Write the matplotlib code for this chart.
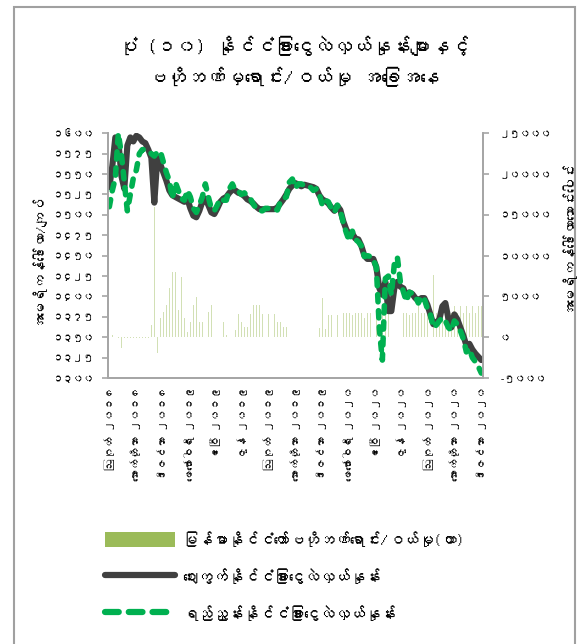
import numpy as np
import matplotlib
matplotlib.use('Agg')
import matplotlib.pyplot as plt
from matplotlib import font_manager
from matplotlib.ft2font import FT2Font
from matplotlib.patches import Patch, Rectangle
from matplotlib.lines import Line2D

# look for any installed font that has Myanmar glyphs
mm_font = None
for f in font_manager.fontManager.ttflist:
    try:
        if 0x1000 in FT2Font(f.fname).get_charmap():
            mm_font = f.name
            break
    except Exception:
        pass
families = [mm_font, 'DejaVu Sans'] if mm_font else ['DejaVu Sans']
plt.rcParams['font.family'] = families

title = "ပုံ (၁၀) နိုင်ငံခြားငွေလဲလှယ်နှုန်းများနှင့်\nဗဟိုဘဏ်မှရောင်း/ဝယ်မှု အခြေအနေ"
left_label = "အမေရိကန်ဒေါ်လာ/ကျပ်"
right_label = "အမေရိကန်ဒေါ်လာသောင်းပေါင်း"
bar_name = "မြန်မာနိုင်ငံတော်ဗဟိုဘဏ်ရောင်း/ဝယ်မှု(ယာ)"
market_name = "ဈေးကွက်နိုင်ငံခြားငွေလဲလှယ်နှုန်း"
ref_name = "ရည်ညွှန်းနိုင်ငံခြားငွေလဲလှယ်နှုန်း"

date_labels = ["ဩဂုတ် ၂၀၁၈", "အောက်တိုဘာ ၂၀၁၈", "ဒီဇင်ဘာ ၂၀၁၈",
               "ဖေဖော်ဝါရီ ၂၀၁၉", "ဧပြီ ၂၀၁၉", "ဇွန် ၂၀၁၉", "ဩဂုတ် ၂၀၁၉",
               "အောက်တိုဘာ ၂၀၁၉", "ဒီဇင်ဘာ ၂၀၁၉",
               "ဖေဖော်ဝါရီ ၂၀၂၀", "ဧပြီ ၂၀၂၀", "ဇွန် ၂၀၂၀", "ဩဂုတ် ၂၀၂၀",
               "အောက်တိုဘာ ၂၀၂၀", "ဒီဇင်ဘာ ၂၀၂၀"]

# kyat per USD
market_rate = [1534, 1560, 1595, 1592, 1548, 1532, 1585, 1595, 1590, 1597,
               1595, 1590, 1588, 1580, 1570, 1515, 1570, 1562, 1552, 1542,
               1530, 1524, 1522, 1520, 1518, 1516, 1520, 1508, 1499, 1497,
               1505, 1516, 1520, 1512, 1503, 1501, 1508, 1516, 1520, 1522,
               1527, 1531, 1530, 1527, 1526, 1523, 1519, 1517, 1514, 1510,
               1507, 1507, 1507, 1507, 1507, 1507, 1509, 1514, 1519, 1525,
               1532, 1536, 1539, 1537, 1535, 1537, 1536, 1535, 1534, 1532,
               1524, 1519, 1517, 1514, 1509, 1505, 1511, 1506, 1492, 1482,
               1476, 1477, 1471, 1470, 1462, 1450, 1446, 1446, 1446, 1436,
               1410, 1402, 1418, 1382, 1382, 1410, 1418, 1412, 1410, 1401,
               1405, 1403, 1398, 1395, 1398, 1398, 1390, 1378, 1366, 1368,
               1372, 1388, 1392, 1373, 1362, 1378, 1372, 1362, 1352, 1340,
               1342, 1335, 1330, 1326, 1322]

reference_rate = [1510, 1530, 1545, 1600, 1575, 1540, 1505, 1525, 1545, 1555,
                  1575, 1580, 1580, 1578, 1575, 1572, 1577, 1578, 1565, 1552,
                  1542, 1520, 1540, 1530, 1520, 1518, 1530, 1522, 1508, 1503,
                  1512, 1522, 1538, 1522, 1508, 1505, 1512, 1520, 1518, 1518,
                  1532, 1538, 1530, 1529, 1525, 1527, 1523, 1520, 1513, 1508,
                  1505, 1505, 1508, 1508, 1507, 1507, 1506, 1516, 1520, 1522,
                  1540, 1544, 1533, 1538, 1538, 1536, 1536, 1534, 1530, 1532,
                  1525, 1512, 1518, 1516, 1508, 1503, 1512, 1505, 1490, 1478,
                  1468, 1480, 1470, 1467, 1462, 1449, 1450, 1449, 1445, 1436,
                  1360, 1322, 1422, 1425, 1402, 1440, 1448, 1418, 1406, 1394,
                  1405, 1404, 1400, 1392, 1400, 1397, 1385, 1378, 1362, 1365,
                  1370, 1374, 1370, 1362, 1358, 1370, 1366, 1358, 1348, 1332,
                  1336, 1325, 1320, 1314, 1306]

# central bank sales(-)/purchases, USD 10 thousand
cbm_trade = [0, 300, 0, -100, -1350, -100, -100, -100, -100, -100,
             -100, -100, -100, -100, 1500, 16000, -1960, 2300, 3100, 4000,
             6000, 8000, 8000, 3300, 7400, 2300, 700, 1900, 4000, 4900,
             1900, 1900, 0, 3100, 4000, 0, 0, 0, 1900, 300,
             0, 0, 900, 2900, 1900, 1300, 1300, 2900, 4000, 4000,
             4000, 2900, 0, 2900, 0, 2900, 1900, 1900, 1300, 1300,
             0, 0, 0, 0, 0, 0, 0, 0, 0, 0,
             1100, 4800, 1000, 2700, 2700, 0, 2700, 0, 2950, 2950,
             2950, 2700, 2950, 2950, 2950, 2400, 2950, 2950, 0, 2400,
             0, 2950, 2950, 2950, 0, 0, 0, 0, 2950, 2950,
             2700, 2950, 2950, 4000, 2950, 2950, 2950, 0, 7600, 3000,
             2800, 3800, 3000, 3800, 3000, 3800, 3000, 3800, 3000, 3800,
             3000, 3800, 3000, 3800, 3800]

left_ticks = list(range(1300, 1601, 25))
right_ticks = list(range(-5000, 25001, 5000))

mm_digits = str.maketrans('0123456789', '၀၁၂၃၄၅၆၇၈၉')
def mm(v):
    return str(v).translate(mm_digits)

x = np.arange(len(market_rate))
grey = '#a6a6a6'

fig = plt.figure(figsize=(5.86, 6.44), dpi=100)
ax = fig.add_axes([0.184, 0.413, 0.64, 0.38])
ax2 = ax.twinx()

ax2.bar(x, cbm_trade, width=0.35, color='#b5cc85', alpha=0.6, linewidth=0)
ax.plot(x, market_rate, color='#404040', lw=4.4, solid_capstyle='round',
        solid_joinstyle='round')
ax.plot(x, reference_rate, color='#00b050', lw=4.0, linestyle=(0, (1.3, 1.6)),
        dash_capstyle='round')
ax.set_zorder(ax2.get_zorder() + 1)
ax.patch.set_visible(False)

ax.set_ylim(1300, 1600)
ax2.set_ylim(-5000, 25000)
ax.set_xlim(-0.5, len(x) - 0.5)
ax.set_yticks(left_ticks)
ax.set_yticklabels([mm(v) for v in left_ticks])
ax2.set_yticks(right_ticks)
ax2.set_yticklabels([mm(v) for v in right_ticks])

tick_pos = np.linspace(0, len(x) - 1, len(date_labels))
ax.set_xticks(tick_pos)
ax.set_xticklabels(date_labels, rotation=90, va='top', ha='center')

for a in (ax, ax2):
    a.spines['top'].set_visible(False)
    for s in ('left', 'right', 'bottom'):
        a.spines[s].set_color(grey)
        a.spines[s].set_linewidth(1.3)
    a.tick_params(axis='both', colors=grey, labelcolor='black', labelsize=7.5,
                  length=4, width=1.2, direction='out')
ax.tick_params(axis='x', length=0, pad=6, labelsize=8)
ax2.tick_params(axis='y', pad=8)
ax.tick_params(axis='y', pad=6)

fig.text(0.5, 0.905, title, ha='center', va='center', fontsize=14,
         fontweight='bold', linespacing=1.6)
fig.text(36 / 586, 1 - 258 / 644, left_label, rotation=90, ha='center',
         va='center', fontsize=10)
fig.text(566 / 586, 1 - 235 / 644, right_label, rotation=90, ha='center',
         va='center', fontsize=10)

handles = [Patch(facecolor='#9bbb59', edgecolor='none'),
           Line2D([], [], color='#404040', lw=4.5, solid_capstyle='round'),
           Line2D([], [], color='#00b050', lw=4.5, linestyle=(0, (2.2, 1.6)),
                  dash_capstyle='round')]
fig.legend(handles, [bar_name, market_name, ref_name], loc='upper left',
           bbox_to_anchor=(0.155, 0.197), frameon=False, fontsize=11,
           handlelength=4.6, handleheight=1.2, labelspacing=1.35,
           handletextpad=0.5)

fig.add_artist(Rectangle((14 / 586, -0.05), (575 - 14) / 586, 1.05 - 7 / 644,
                         transform=fig.transFigure, fill=False,
                         edgecolor='#a0a0a0', lw=1.5))

fig.savefig('out.png', dpi=100)
